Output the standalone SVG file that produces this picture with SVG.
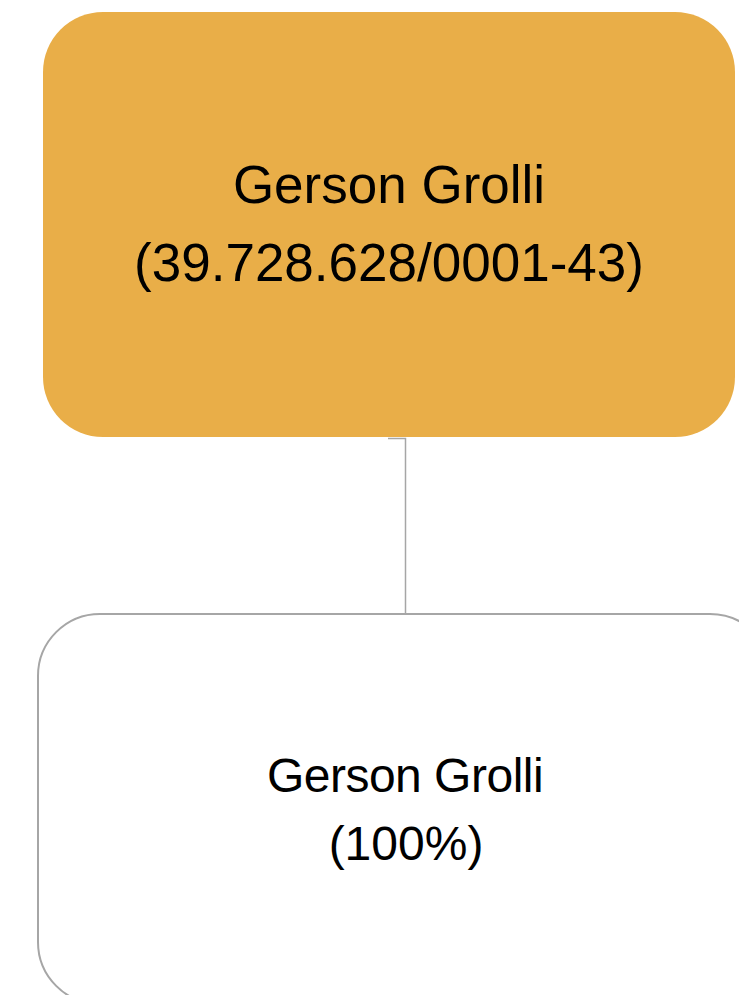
<svg xmlns="http://www.w3.org/2000/svg" width="739" height="995" viewBox="0 0 739 995">
<style>
.t{font-family:"Liberation Sans",Arial,sans-serif;fill:#000;text-anchor:middle}
</style>
<rect width="739" height="995" fill="#fff"/>
<g id="connectors">
<path d="M388 438.5H405.5V614" fill="none" stroke="#a6a6a6" stroke-width="1.5"/>
</g>
<g id="node-top">
<rect x="43" y="12" width="692" height="425" rx="60" ry="60" fill="#e9ae48"/>
<text class="t" x="389" y="203" font-size="53">Gerson Grolli</text>
<text class="t" x="389" y="281" font-size="53">(39.728.628/0001-43)</text>
</g>
<g id="node-bottom">
<rect x="38" y="614" width="734" height="390" rx="62" ry="62" fill="#fff" stroke="#a6a6a6" stroke-width="2"/>
<text class="t" x="405" y="792" font-size="48" letter-spacing="-0.5">Gerson Grolli</text>
<text class="t" x="406" y="860" font-size="48">(100%)</text>
</g>
</svg>
